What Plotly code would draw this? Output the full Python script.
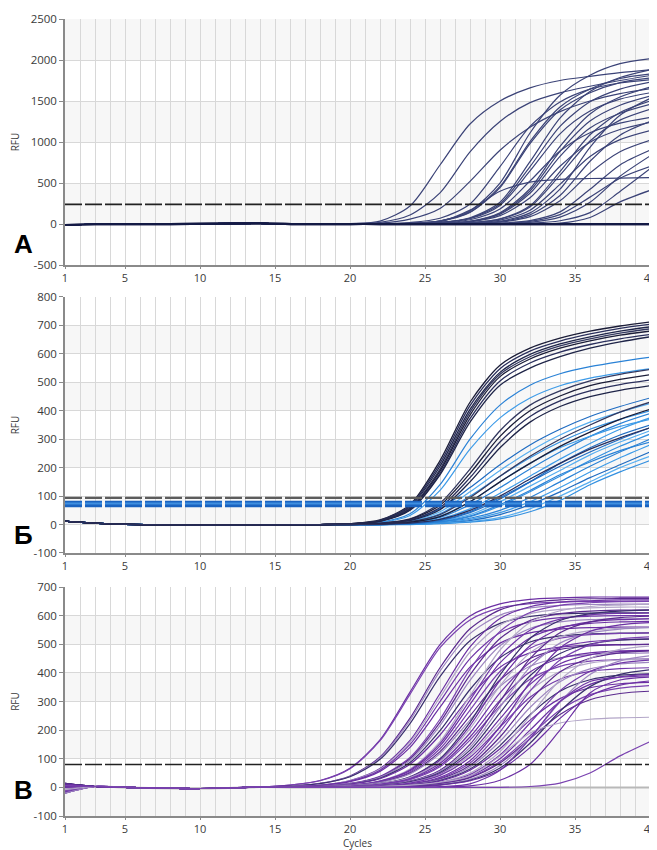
import plotly.graph_objects as go

# ---------------- shared ----------------
CYCLE_TICKS = [1, 5, 10, 15, 20, 25, 30, 35, 40]
CYCLE_RANGE = [1, 40]

# ---------------- Panel А ----------------
A_BASE_X = [1, 3, 8, 14, 17]
A_BASE_Y = [-12, -3, 0, 8, -2]
A_X = [20, 22, 24, 26, 28, 30, 32, 34, 36, 38, 40]
A_CURVES = [
    [5, 35, 220, 720, 1220, 1500, 1660, 1750, 1800, 1845, 1880],
    [3, 20, 110, 380, 880, 1250, 1480, 1600, 1680, 1750, 1810],
    [2, 10, 60, 190, 520, 900, 1180, 1370, 1500, 1590, 1650],
    [0, 5, 18, 70, 245, 700, 1190, 1488, 1645, 1720, 1760],
    [0, 0, 10, 40, 160, 500, 1110, 1570, 1815, 1955, 2015],
    [0, 0, 9, 36, 142, 445, 980, 1390, 1600, 1725, 1780],
    [0, 0, 9, 37, 146, 458, 1006, 1427, 1647, 1775, 1830],
    [0, 0, 6, 19, 76, 266, 760, 1292, 1615, 1786, 1880],
    [0, 0, 5, 18, 70, 245, 700, 1190, 1490, 1645, 1730],
    [0, 0, 5, 16, 65, 227, 648, 1100, 1377, 1523, 1600],
    [0, 0, 4, 13, 52, 183, 524, 890, 1113, 1231, 1300],
    [0, 0, 0, 9, 34, 138, 430, 946, 1342, 1548, 1670],
    [0, 0, 0, 8, 32, 129, 403, 886, 1256, 1449, 1560],
    [0, 0, 0, 8, 30, 120, 375, 825, 1170, 1350, 1460],
    [0, 0, 0, 6, 26, 102, 320, 704, 998, 1152, 1240],
    [0, 0, 0, 0, 16, 64, 224, 640, 1088, 1360, 1500],
    [0, 0, 0, 0, 15, 60, 209, 596, 1013, 1267, 1400],
    [0, 0, 0, 0, 12, 48, 169, 484, 823, 1029, 1140],
    [0, 0, 0, 0, 7, 28, 111, 348, 765, 1084, 1250],
    [0, 0, 0, 0, 9, 34, 136, 425, 935, 1326, 1530],
    [0, 0, 0, 0, 6, 23, 90, 283, 622, 881, 1020],
    [0, 0, 0, 0, 3, 11, 42, 148, 424, 721, 900],
    [0, 0, 0, 0, 2, 8, 33, 115, 328, 558, 700],
    [0, 0, 0, 0, 0, 5, 21, 85, 265, 583, 830],
    [0, 0, 0, 0, 0, 3, 10, 40, 139, 396, 673],
    [0, 0, 5, 30, 170, 400, 510, 545, 555, 560, 565],
    [0, 0, 0, 0, 0, 0, 3, 10, 80, 270, 410],
]
A_NEGATIVES = [
    [0, 0, 0, 0, 0, 0, 0, 0, 0, 0, 0],
    [0, 0, 0, 0, 0, 0, 0, 0, 0, 0, 0],
]
A_THRESHOLD = 240
A_YTICKS = [-500, 0, 500, 1000, 1500, 2000, 2500]

# ---------------- Panel Б ----------------
B_BASE_X = [1, 2, 4, 10, 15, 18]
B_BASE_Y = [12, 8, 2, -2, -1, 0]
B_X = [20, 22, 24, 26, 28, 30, 32, 34, 36, 38, 40]
B_DARK_CURVES = [
    [3, 16, 70, 225, 430, 560, 620, 655, 680, 698, 712],
    [3, 15, 66, 215, 418, 548, 610, 645, 670, 690, 704],
    [2, 14, 62, 205, 405, 535, 598, 635, 660, 680, 695],
    [2, 13, 58, 195, 395, 528, 590, 628, 653, 673, 688],
    [2, 12, 55, 188, 385, 520, 582, 620, 646, 666, 680],
    [2, 12, 52, 180, 372, 505, 568, 606, 633, 653, 668],
    [2, 11, 50, 175, 360, 490, 550, 590, 620, 642, 660],
    [1, 5, 20, 75, 195, 330, 420, 470, 505, 528, 545],
    [1, 4, 18, 68, 180, 310, 400, 452, 488, 510, 527],
    [1, 4, 16, 60, 165, 290, 380, 435, 470, 492, 508],
    [0, 3, 14, 52, 150, 270, 360, 415, 450, 472, 488],
    [0, 2, 10, 35, 95, 170, 240, 300, 350, 395, 430],
    [0, 2, 8, 28, 80, 150, 215, 275, 325, 370, 405],
    [0, 1, 5, 18, 50, 100, 160, 215, 265, 305, 340],
]
B_BLUE_CURVES = [
    [1, 8, 38, 140, 300, 420, 490, 530, 555, 573, 588],
    [1, 7, 32, 120, 265, 375, 445, 488, 515, 533, 548],
    [0, 3, 15, 55, 130, 210, 280, 335, 380, 415, 445],
    [0, 2, 12, 45, 115, 190, 258, 315, 360, 395, 425],
    [0, 2, 10, 38, 100, 170, 235, 290, 335, 370, 400],
    [0, 1, 6, 25, 70, 130, 195, 255, 310, 355, 390],
    [0, 1, 5, 20, 55, 110, 170, 230, 285, 335, 375],
    [0, 1, 4, 15, 45, 95, 150, 205, 255, 300, 340],
    [0, 0, 3, 12, 35, 80, 135, 190, 245, 290, 330],
    [0, 0, 2, 9, 28, 65, 115, 170, 225, 275, 318],
    [0, 0, 2, 8, 22, 50, 95, 150, 205, 255, 300],
    [0, 0, 1, 6, 18, 42, 80, 130, 185, 235, 280],
    [0, 0, 1, 5, 14, 35, 70, 115, 165, 210, 255],
    [0, 0, 1, 4, 10, 25, 55, 100, 150, 200, 240],
    [0, 0, 0, 3, 8, 20, 45, 85, 140, 185, 225],
    [0, 0, 2, 10, 30, 70, 120, 175, 220, 260, 290],
    [0, 1, 8, 30, 80, 150, 215, 270, 310, 345, 370],
    [0, 0, 3, 14, 42, 90, 150, 215, 270, 315, 350],
]
B_THRESH_GRAY = 94
B_THRESH_BLUE = 72
B_YTICKS = [-100, 0, 100, 200, 300, 400, 500, 600, 700, 800]

# ---------------- Panel В ----------------
C_START = [12, 6, -4, -16, 9, -10, 3, -20, 14, 0, -8, 5]
C_BASE_X = [3, 5, 10, 14]
C_BASE_Y = [3, 0, -4, 1]
C_X = [16, 18, 20, 22, 24, 26, 28, 30, 32, 34, 36, 38, 40]
C_CURVES = [
    [8, 24, 67, 166, 333, 499, 599, 641, 657, 662, 665, 665, 665],
    [8, 23, 65, 163, 325, 488, 585, 627, 642, 647, 650, 650, 650],
    [5, 14, 40, 106, 242, 418, 554, 620, 646, 655, 659, 660, 660],
    [4, 13, 38, 103, 234, 406, 537, 602, 627, 636, 639, 640, 640],
    [4, 13, 37, 98, 223, 387, 512, 573, 597, 606, 609, 610, 610],
    [3, 8, 24, 66, 164, 328, 491, 590, 631, 647, 652, 655, 655],
    [3, 8, 23, 63, 158, 315, 473, 567, 607, 622, 627, 630, 630],
    [2, 7, 22, 60, 150, 300, 450, 540, 578, 593, 598, 600, 600],
    [2, 7, 20, 56, 140, 280, 420, 504, 540, 553, 558, 560, 560],
    [1, 5, 14, 39, 105, 238, 412, 545, 611, 636, 645, 649, 650],
    [1, 4, 13, 37, 100, 227, 393, 520, 583, 607, 616, 619, 620],
    [1, 4, 12, 35, 95, 216, 374, 495, 555, 578, 586, 589, 590],
    [1, 4, 11, 32, 87, 198, 342, 453, 508, 529, 536, 539, 540],
    [1, 4, 11, 30, 81, 183, 317, 420, 470, 490, 497, 499, 500],
    [0, 3, 8, 23, 64, 160, 320, 480, 576, 617, 632, 637, 640],
    [0, 2, 7, 22, 61, 153, 305, 458, 549, 588, 603, 608, 610],
    [0, 2, 7, 21, 58, 145, 290, 435, 522, 559, 573, 578, 580],
    [0, 2, 6, 19, 54, 135, 270, 405, 486, 521, 534, 538, 540],
    [0, 2, 6, 18, 50, 125, 250, 375, 450, 482, 494, 498, 500],
    [0, 2, 6, 17, 47, 118, 235, 353, 423, 453, 464, 468, 470],
    [0, 1, 4, 13, 37, 100, 227, 393, 520, 583, 607, 616, 619],
    [0, 1, 4, 12, 35, 95, 216, 374, 495, 555, 578, 586, 589],
    [0, 1, 4, 12, 34, 90, 205, 355, 470, 526, 548, 556, 559],
    [0, 1, 4, 11, 31, 84, 190, 330, 436, 489, 509, 516, 519],
    [0, 1, 3, 10, 29, 77, 176, 304, 403, 451, 470, 477, 479],
    [0, 1, 3, 9, 27, 72, 165, 285, 378, 423, 441, 447, 449],
    [0, 0, 2, 7, 22, 60, 150, 300, 450, 540, 578, 593, 598],
    [0, 0, 2, 7, 20, 56, 140, 280, 420, 504, 540, 553, 558],
    [0, 0, 2, 6, 19, 52, 130, 260, 390, 468, 501, 514, 518],
    [0, 0, 2, 6, 17, 48, 120, 240, 360, 432, 463, 474, 478],
    [0, 0, 2, 5, 16, 45, 113, 225, 338, 405, 434, 445, 448],
    [0, 0, 2, 5, 15, 42, 105, 210, 315, 378, 405, 415, 418],
    [0, 0, 1, 4, 12, 35, 93, 212, 368, 487, 545, 568, 576],
    [0, 0, 1, 4, 11, 32, 85, 194, 336, 445, 498, 519, 526],
    [0, 0, 1, 3, 10, 29, 77, 176, 304, 403, 451, 470, 477],
    [0, 0, 1, 3, 9, 26, 71, 161, 279, 369, 414, 431, 437],
    [0, 0, 1, 3, 8, 24, 64, 146, 254, 336, 376, 392, 397],
    [0, 0, 1, 3, 8, 22, 60, 135, 235, 310, 348, 362, 367],
    [0, 0, 0, 2, 6, 18, 50, 125, 250, 375, 450, 482, 494],
    [0, 0, 0, 2, 5, 16, 45, 113, 225, 338, 405, 434, 445],
    [0, 0, 0, 2, 5, 14, 40, 100, 200, 300, 360, 386, 395],
    [0, 0, 0, 1, 4, 13, 36, 90, 180, 270, 324, 347, 356],
    [0, 0, 0, 1, 4, 12, 34, 85, 170, 255, 306, 328, 336],
    [0, 0, 0, 1, 3, 10, 28, 76, 172, 298, 394, 442, 460],
    [0, 0, 0, 1, 3, 9, 25, 68, 154, 266, 352, 395, 411],
    [0, 0, 0, 1, 3, 8, 23, 61, 139, 241, 319, 357, 372],
    [0, 0, 1, 3, 8, 18, 40, 110, 190, 225, 238, 243, 245],
    [0, 0, 0, 0, 1, 3, 12, 60, 170, 300, 370, 385, 390],
    [0, 0, 0, 0, 0, 1, 5, 25, 80, 200, 330, 375, 385],
    [0, 0, 0, 0, 0, 0, 0, 0, 3, 15, 50, 110, 160],
]
C_NEGATIVE = [0, 0, 0, 0, 0, 0, 0, 0, 0, 0, 0, 0, 0]
C_THRESHOLD = 80
C_YTICKS = [-100, 0, 100, 200, 300, 400, 500, 600, 700]

# ---------------- styling ----------------
A_COLOR = "#3b4377"
A_NEG_COLOR = "#141a45"
B_DARK_COLORS = ["#1b1d38", "#2a2f5c", "#1e2448", "#33385f"]
B_BLUE_COLORS = ["#2a82d6", "#3d9be8", "#1f6cc2", "#57aef0", "#3390e0"]
C_COLORS = ["#6b2fa3", "#7a42b0", "#5b2a8e", "#9d86c0", "#3a2f6e", "#6b2fa3", "#b3a6c8", "#7036a8"]
GRID = "#d8d8d8"
BAND = "#f7f7f7"
AXLINE = "#8a8a8a"
FONT = "Open Sans, Noto Sans, sans-serif"

fig = go.Figure()


def add_curve(xs, ys, color, width, xa, ya):
    fig.add_trace(go.Scatter(
        x=xs, y=ys, mode="lines",
        line=dict(color=color, width=width, shape="spline", smoothing=0.8),
        xaxis=xa, yaxis=ya, showlegend=False, hoverinfo="skip"))


# Panel А
for ys in A_CURVES:
    add_curve(A_BASE_X + A_X, A_BASE_Y + ys, A_COLOR, 1.2, "x", "y")
for ys in A_NEGATIVES:
    add_curve(A_BASE_X + A_X, A_BASE_Y + ys, A_NEG_COLOR, 2.2, "x", "y")

# Panel Б
for i, ys in enumerate(B_BLUE_CURVES):
    add_curve(B_BASE_X + B_X, B_BASE_Y + ys, B_BLUE_COLORS[i % len(B_BLUE_COLORS)], 1.2, "x2", "y2")
for i, ys in enumerate(B_DARK_CURVES):
    add_curve(B_BASE_X + B_X, B_BASE_Y + ys, B_DARK_COLORS[i % len(B_DARK_COLORS)], 1.3, "x2", "y2")

# Panel В
add_curve([1] + C_BASE_X + C_X, [-12] + C_BASE_Y + C_NEGATIVE, "#b9b9b9", 2.0, "x3", "y3")
for i, ys in enumerate(C_CURVES):
    add_curve([1] + C_BASE_X + C_X, [C_START[i % len(C_START)]] + C_BASE_Y + ys,
              C_COLORS[i % len(C_COLORS)], 1.2, "x3", "y3")

shapes = []


def bands(ticks, xref, yref, first_tinted):
    rows = list(zip(ticks[:-1], ticks[1:]))[::-1]
    for i, (lo, hi) in enumerate(rows):
        if (i % 2 == 0) == first_tinted:
            shapes.append(dict(type="rect", xref=xref, yref=yref, x0=CYCLE_RANGE[0], x1=CYCLE_RANGE[1],
                               y0=lo, y1=hi, fillcolor=BAND, line=dict(width=0), layer="below"))


bands(A_YTICKS, "x", "y", True)
bands(B_YTICKS, "x2", "y2", False)
bands(C_YTICKS, "x3", "y3", False)


def hline(xref, yref, yv, color, width, dash):
    shapes.append(dict(type="line", xref=xref, yref=yref, x0=CYCLE_RANGE[0], x1=CYCLE_RANGE[1],
                       y0=yv, y1=yv, line=dict(color=color, width=width, dash=dash), layer="above"))


hline("x", "y", A_THRESHOLD, "#222222", 1.6, "17px,3px")
hline("x2", "y2", B_THRESH_GRAY, "#5c5c5c", 2.2, "17px,3px")
hline("x2", "y2", B_THRESH_BLUE, "#1a63c0", 6.5, "17px,3px")
hline("x2", "y2", B_THRESH_BLUE + 2, "#3f8fe0", 2.0, "17px,3px")
hline("x3", "y3", C_THRESHOLD, "#222222", 1.6, "17px,3px")

fig.update_layout(shapes=shapes)

TICKFONT = dict(family=FONT, size=11.5, color="#3a3a3a")
XTICKFONT = dict(family=FONT, size=11, color="#3a3a3a")


def xax(anchor, title=None):
    d = dict(
        anchor=anchor, range=CYCLE_RANGE, tickmode="array", tickvals=CYCLE_TICKS,
        ticktext=[str(v) for v in CYCLE_TICKS],
        showgrid=True, gridcolor=GRID, gridwidth=1,
        minor=dict(tickmode="linear", tick0=1, dtick=1, showgrid=True, gridcolor=GRID, gridwidth=1),
        showline=True, linecolor=AXLINE, linewidth=1.5,
        ticks="outside", ticklen=2, tickcolor=AXLINE,
        tickfont=XTICKFONT, zeroline=False, fixedrange=True, automargin=False,
    )
    if title:
        d["title"] = dict(text=title, font=dict(family=FONT, size=10, color="#3a3a3a"), standoff=4)
    return d


def yax(anchor, domain, ticks):
    return dict(
        anchor=anchor, domain=domain, range=[ticks[0], ticks[-1]], tickmode="array", tickvals=ticks,
        ticktext=[str(v) for v in ticks],
        showgrid=True, gridcolor=GRID, gridwidth=1,
        showline=True, linecolor=AXLINE, linewidth=1.5,
        ticks="outside", ticklen=4, tickcolor=AXLINE,
        tickfont=TICKFONT, zeroline=False, fixedrange=True, automargin=False,
        title=dict(text="RFU", font=dict(family=FONT, size=10, color="#3a3a3a"), standoff=12),
    )


LETTER_FONT = dict(family="Liberation Sans, Arial, sans-serif", size=26, color="black")


def letter(text, y):
    return dict(text="<b>" + text + "</b>", x=-0.071, y=y, xref="paper", yref="paper",
                xanchor="center", yanchor="middle", showarrow=False, font=LETTER_FONT)


# the page body adds an 8px offset, so the figure is drawn 8px smaller and margins shifted
fig.update_layout(
    width=649, height=842,
    margin=dict(l=57, r=7, t=11, b=34),
    paper_bgcolor="white", plot_bgcolor="white",
    showlegend=False,
    xaxis=xax("y"), yaxis=yax("x", [0.6913, 1.0], A_YTICKS),
    xaxis2=xax("y2"), yaxis2=yax("x2", [0.330, 0.6512], B_YTICKS),
    xaxis3=xax("y3", title="Cycles"), yaxis3=yax("x3", [0.0, 0.2873], C_YTICKS),
    annotations=[
        letter("А", 0.7177),
        letter("Б", 0.3526),
        letter("В", 0.0326),
    ],
)

fig.write_html("out.html")
